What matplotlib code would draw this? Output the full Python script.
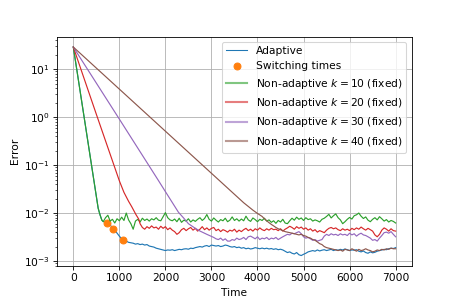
import numpy as np
import matplotlib
matplotlib.use("Agg")
import matplotlib.pyplot as plt
from matplotlib.lines import Line2D

# --- values (errors in absolute units, floors in 1e-3) ---
start_err = 29.0

# k = 10 decay, shared with the adaptive run until it switches
k10_decay_t = [0, 540, 580, 620]
k10_decay_e = [start_err, 0.0126, 0.0092, 0.0071]
k10_floor_t0 = 650
k10_floor = [
    6.6, 8.0, 9.0, 6.8, 7.4, 6.2, 7.6, 6.9, 8.2, 7.0,
    10.0, 7.2, 6.0, 4.6, 6.8, 7.4, 6.5, 7.8, 7.0, 7.5,
    6.8, 7.6, 7.2, 8.0, 7.1, 6.9, 8.4, 10.2, 8.0, 7.2,
    6.9, 7.5, 6.6, 7.8, 6.4, 7.1, 6.8, 7.6, 6.5, 7.2,
    6.7, 7.4, 8.0, 7.0, 7.7, 9.3, 7.4, 6.8, 7.9, 7.1,
    6.5, 7.3, 6.9, 7.8, 6.6, 7.1, 8.3, 7.0, 7.6, 6.8,
    7.5, 6.9, 8.6, 7.2, 6.7, 7.9, 7.3, 6.6, 7.4, 7.0,
    7.8, 6.8, 7.2, 6.4, 6.9, 6.1, 7.0, 6.5, 7.4, 6.2,
    6.0, 6.9, 7.8, 7.1, 8.2, 7.4, 7.9, 7.0, 8.0, 7.3,
    7.6, 6.8, 7.2, 6.9, 6.5, 7.4, 7.8, 8.5, 9.4, 7.9,
    8.8, 9.6, 8.0, 7.2, 6.0, 6.6, 7.4, 8.1, 7.5, 8.8,
    9.2, 10.0, 8.6, 7.7, 8.3, 7.1, 6.6, 7.4, 8.0, 7.2,
    8.4, 7.6, 6.8, 7.3, 6.5, 7.0, 6.7, 6.2,
]

adaptive_floor_t0 = 650
adaptive_floor = [
    6.7, 6.4, 6.2, 5.6, 5.0, 4.4, 3.8, 3.3, 2.9, 2.65,
    2.6, 2.45, 2.4, 2.35, 2.25, 2.3, 2.2, 2.25, 2.15, 2.2,
    2.05, 2.0, 1.95, 1.85, 1.8, 1.75, 1.7, 1.65, 1.7, 1.68,
    1.72, 1.65, 1.7, 1.75, 1.72, 1.78, 1.8, 1.76, 1.85, 1.82,
    1.9, 1.95, 2.0, 1.95, 2.05, 2.1, 2.0, 2.15, 2.1, 2.05,
    2.1, 2.0, 2.05, 2.15, 2.1, 2.0, 1.95, 2.0, 1.9, 1.95,
    1.85, 1.9, 1.8, 1.85, 1.78, 1.82, 1.9, 1.85, 1.8, 1.86,
    1.8, 1.85, 1.78, 1.82, 1.75, 1.8, 1.72, 1.76, 1.7, 1.6,
    1.5, 1.55, 1.45, 1.4, 1.5, 1.35, 1.3, 1.38, 1.45, 1.55,
    1.6, 1.65, 1.6, 1.7, 1.62, 1.68, 1.72, 1.65, 1.7, 1.75,
    1.65, 1.72, 1.68, 1.75, 1.7, 1.78, 1.72, 1.65, 1.7, 1.68,
    1.72, 1.6, 1.55, 1.62, 1.5, 1.45, 1.55, 1.48, 1.52, 1.6,
    1.65, 1.7, 1.75, 1.72, 1.8, 1.85, 1.82, 1.9,
]

switch_t = [740, 870, 1073]
switch_e = [6.3e-3, 4.7e-3, 2.75e-3]

k20_decay_t = [0, 500, 1000, 1100, 1200, 1270, 1363, 1420]
k20_decay_e = [start_err, 1.15, 0.047, 0.027, 0.0176, 0.0135, 0.0092, 0.0075]
k20_floor_t0 = 1450
k20_floor = [
    6.0, 5.0, 4.6, 5.2, 4.8, 5.4, 4.9, 5.1, 4.6, 5.3,
    4.8, 5.2, 4.5, 4.9, 4.4, 4.1, 3.6, 3.9, 4.5, 4.8,
    4.3, 4.7, 5.0, 4.4, 4.8, 4.2, 4.6, 5.2, 4.5, 4.9,
    4.4, 4.8, 5.0, 4.3, 4.6, 4.1, 4.5, 4.3, 4.0, 4.4,
    4.2, 4.6, 4.0, 4.4, 4.1, 4.5, 4.8, 4.3, 4.6, 4.2,
    4.7, 4.4, 4.9, 4.5, 4.3, 4.7, 4.4, 4.8, 4.5, 4.6,
    4.3, 4.7, 4.2, 4.6, 4.9, 5.3, 5.0, 4.6, 5.2, 4.8,
    5.1, 4.6, 4.9, 4.4, 4.7, 4.2, 4.5, 4.0, 4.3, 4.1,
    3.9, 4.4, 4.8, 5.0, 4.7, 4.9, 4.5, 4.3, 4.7, 4.4,
    4.6, 4.3, 4.8, 4.5, 4.9, 4.6, 5.1, 4.7, 4.4, 4.8,
    4.5, 4.2, 3.5, 3.2, 3.6, 4.4, 4.9, 4.6, 4.2, 4.7,
    4.3, 4.2,
]

k30_decay_t = [0, 1000, 1835, 2000, 2283, 2400, 2500, 2650, 2754, 2900, 3050]
k30_decay_e = [start_err, 0.91, 0.05, 0.028, 0.0104, 0.0078, 0.006, 0.0048, 0.0042, 0.0036, 0.0031]
k30_floor_t0 = 3100
k30_floor = [
    2.9, 2.8, 3.0, 2.7, 2.9, 2.6,
    2.6, 2.8, 2.7, 3.0, 2.8, 2.9, 3.1, 2.8, 3.2, 3.3,
    3.1, 2.9, 3.2, 2.8, 3.0, 2.9, 3.1, 2.8, 3.0, 2.9,
    3.1, 2.8, 3.0, 3.2, 3.4, 3.6, 3.5, 3.8, 3.7, 3.9,
    4.1, 3.7, 3.2, 3.0, 3.1, 2.9, 2.7, 2.8, 2.6, 2.7,
    2.8, 3.3, 3.6, 3.4, 3.7, 3.5, 3.6, 3.4, 3.7, 3.5,
    3.6, 3.4, 3.8, 3.5, 3.7, 3.3, 3.6, 3.8, 3.5, 3.4,
    3.2, 3.0, 2.7, 2.8, 2.6, 3.0, 3.4, 3.9, 4.0, 3.8,
    4.1, 3.6, 3.2,
]

k40_decay_t = [0, 3700, 3900, 4000, 4100]
k40_decay_e = [start_err, 0.0164, 0.0115, 0.0098, 0.0085]
k40_floor_t0 = 4150
k40_floor = [
    7.6, 6.9, 6.3, 5.8, 5.4, 5.0, 4.7, 4.5, 4.3, 4.1,
    4.0, 3.9, 3.8, 3.7, 3.6, 3.5, 3.6, 3.4, 3.3, 3.1,
    3.0, 2.8, 2.7, 2.5, 2.3, 2.2, 2.0, 1.9, 1.85, 1.8,
    1.75, 1.7, 1.65, 1.7, 1.6, 1.75, 1.7, 1.65, 1.8, 1.7,
    1.6, 1.75, 1.65, 1.7, 1.8, 1.7, 1.65, 1.55, 1.6, 1.7,
    1.65, 1.75, 1.7, 1.8, 1.75, 1.85, 1.8, 1.8,
]

step = 50
k_values = [10, 20, 30, 40]
colors = ["#2ca02c", "#d62728", "#9467bd", "#8c564b"]


def series(decay_t, decay_e, t0, floor):
    t = np.concatenate([decay_t, t0 + step * np.arange(len(floor))])
    e = np.concatenate([decay_e, np.array(floor) * 1e-3])
    return t, e


runs = {
    10: series(k10_decay_t, k10_decay_e, k10_floor_t0, k10_floor),
    20: series(k20_decay_t, k20_decay_e, k20_floor_t0, k20_floor),
    30: series(k30_decay_t, k30_decay_e, k30_floor_t0, k30_floor),
    40: series(k40_decay_t, k40_decay_e, k40_floor_t0, k40_floor),
}
adaptive = series(k10_decay_t, k10_decay_e, adaptive_floor_t0, adaptive_floor)

fig, ax = plt.subplots(figsize=(6, 4), dpi=76.25)
fig.subplots_adjust(left=0.125, right=0.9, top=0.88, bottom=0.128)

ax.plot(*adaptive, color="#1f77b4", lw=1.1)
ax.plot(switch_t, switch_e, "o", color="#ff7f0e", ms=6.5)
for k, c in zip(k_values, colors):
    ax.plot(*runs[k], color=c, lw=1.1)

ax.set_yscale("log")
ax.set_xlabel("Time")
ax.set_ylabel("Error")
ax.grid(True)

handles = [
    Line2D([], [], color="#1f77b4", lw=1),
    Line2D([], [], color="#ff7f0e", marker="o", ls="none", ms=6.5),
]
labels = ["Adaptive", "Switching times"]
for k, c in zip(k_values, colors):
    handles.append(Line2D([], [], color=c, lw=2, alpha=0.6))
    labels.append(f"Non-adaptive $k={k}$ (fixed)")
ax.legend(handles, labels, loc="upper right")

fig.savefig("out.png", dpi=76.25)
